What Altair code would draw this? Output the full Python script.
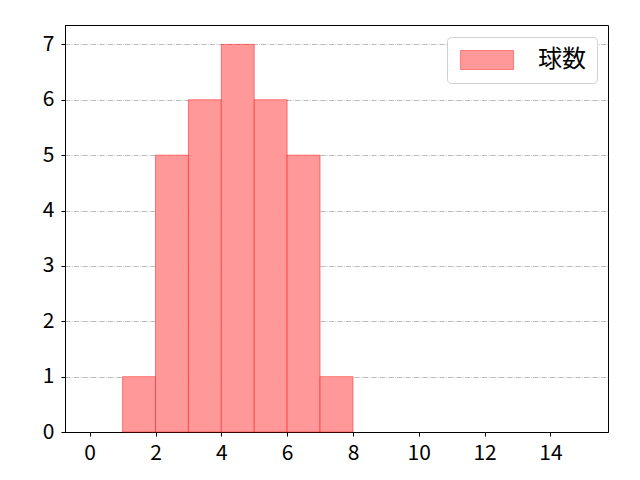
import altair as alt
import pandas as pd

bin_start = [1, 2, 3, 4, 5, 6, 7]
bin_end = [2, 3, 4, 5, 6, 7, 8]
counts = [1, 5, 6, 7, 6, 5, 1]
series = ["球数"] * 7
x_ticks = [0, 2, 4, 6, 8, 10, 12, 14]
y_ticks = [0, 1, 2, 3, 4, 5, 6, 7]

df = pd.DataFrame({"start": bin_start, "end": bin_end, "count": counts, "series": series})

FONT = "Noto Sans CJK JP"

chart = alt.Chart(df).mark_rect(
    fillOpacity=1, stroke="red", strokeOpacity=0.45, strokeWidth=1
).encode(
    x=alt.X("start:Q", scale=alt.Scale(domain=[-0.75, 15.75], nice=False, zero=False),
            axis=alt.Axis(values=x_ticks, title=None, grid=False, format="d", labelPadding=6)),
    x2="end:Q",
    y=alt.Y("count:Q", scale=alt.Scale(domain=[0, 7.35], nice=False),
            axis=alt.Axis(values=y_ticks, title=None, grid=True, format="d", labelPadding=7,
                          gridDash=[5.1, 1.3, 0.8, 1.3], gridColor="#aaaaaa", gridWidth=0.8)),
    y2=alt.datum(0),
    color=alt.Color("series:N", scale=alt.Scale(domain=["球数"], range=["#ff9999"]),
                    legend=alt.Legend(title=None, orient="none", legendX=382, legendY=12,
                                      symbolType="M-2.8,-1L2.8,-1L2.8,1L-2.8,1Z",
                                      symbolSize=361, symbolOffset=17,
                                      symbolOpacity=1,
                                      symbolStrokeColor="#ff7777", symbolStrokeWidth=1,
                                      labelFontSize=24, labelFont=FONT, labelOffset=39,
                                      labelColor="black",
                                      padding=11, strokeColor="#d0d0d0", cornerRadius=4,
                                      fillColor="white")),
).properties(
    width=543, height=407,
    autosize=alt.AutoSizeParams(type="none"),
    padding={"left": 57, "top": 17, "right": 24, "bottom": 40},
).configure_view(
    stroke="black", strokeWidth=1
).configure_axis(
    domainColor="black", domainWidth=1, tickColor="black", tickSize=4, tickWidth=1,
    labelFont=FONT, labelFontSize=21, labelColor="black",
)

chart.save("out.html", embed_options={"renderer": "svg", "actions": False})
